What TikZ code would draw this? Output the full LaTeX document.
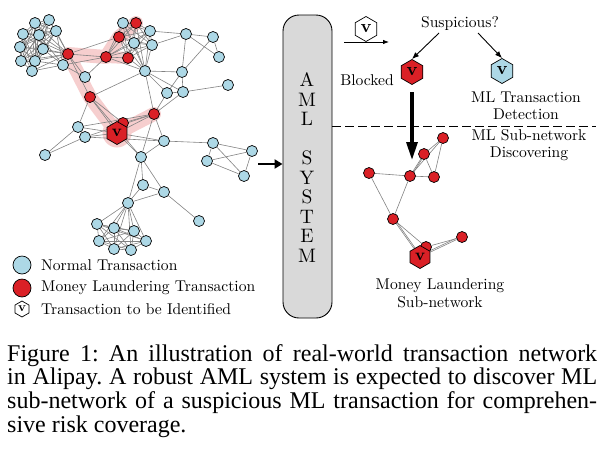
\documentclass[tikz,border=0pt]{standalone}
\usepackage{fontspec}
\newfontfamily\capfont{Liberation Serif}
\usetikzlibrary{shapes.geometric,arrows.meta}
\definecolor{nblue}{RGB}{173,216,230}
\definecolor{mlred}{RGB}{218,32,38}
\definecolor{hlpink}{RGB}{246,206,206}
\definecolor{edgegray}{RGB}{130,130,130}
\definecolor{boxgray}{RGB}{217,217,217}
\newcommand{\sz}[2]{\scalebox{#1}{\fontsize{10}{12}\selectfont #2}}
\newcommand{\twol}[3]{\scalebox{#1}{\fontsize{10}{11.2}\selectfont\begin{tabular}{@{}c@{}}#2\\#3\end{tabular}}}
\pgfdeclarelayer{hl}
\pgfdeclarelayer{edges}
\pgfsetlayers{hl,edges,main}
\begin{document}
\begin{tikzpicture}[x=1pt,y=-1pt,
  nn/.style={circle,draw=black,line width=0.7pt,fill=nblue,minimum size=11pt,inner sep=0pt},
  ml/.style={nn,fill=mlred},
  hexv/.style={regular polygon,regular polygon sides=6,shape border rotate=30,draw=black,line width=0.7pt,minimum size=#1,inner sep=0pt},
  edge/.style={draw=edgegray,line width=0.6pt},
  lbl/.style={inner sep=0pt},
  capline/.style={anchor=base west,inner sep=0pt,font=\capfont\fontsize{24}{24}\selectfont\frenchspacing}
]
\useasboundingbox (0,0) rectangle (601,453);

% ---------- big network nodes ----------
\node[nn] (A1) at (35,23) {};
\node[nn] (A2) at (49,20) {};
\node[nn] (A3) at (23,34) {};
\node[nn] (A4) at (39,35) {};
\node[nn] (A5) at (56,31) {};
\node[nn] (A6) at (20,47) {};
\node[nn] (A7) at (43,49) {};
\node[nn] (A8) at (21,61) {};
\node[nn] (A9) at (35,61) {};
\node[nn] (A10) at (32,71) {};
\node[nn] (A11) at (63,65) {};
\node[ml] (R1) at (68,54) {};
\node[nn] (N1) at (85,77) {};
\node[nn] (B1) at (123,23) {};
\node[ml] (B2) at (136,23) {};
\node[ml] (B3) at (119,37) {};
\node[nn] (B4) at (150,31) {};
\node[nn] (B5) at (134,43) {};
\node[nn] (B6) at (152,45) {};
\node[ml] (B7) at (106,57) {};
\node[ml] (B8) at (128,58) {};
\node[nn] (C1) at (145,71) {};
\node[nn] (D1) at (186,34) {};
\node[nn] (D2) at (213,37) {};
\node[nn] (D3) at (219,57) {};
\node[nn] (D4) at (182,72) {};
\node[nn] (D5) at (167,93) {};
\node[nn] (D6) at (183,92) {};
\node[nn] (D7) at (228,85) {};
\node[ml] (R3) at (90,97) {};
\node[ml] (R4) at (154,114) {};
\node[ml] (R5) at (123,123) {};
\node[hexv=23pt,fill=mlred] (HV) at (117,133) {\sz{1.65}{\bfseries v}};
\node[nn] (E1) at (78,127) {};
\node[nn] (E2) at (85,137) {};
\node[nn] (E3) at (45,155) {};
\node[nn] (F1) at (164,141) {};
\node[nn] (F2) at (141,157) {};
\node[nn] (G1) at (213,143) {};
\node[nn] (G2) at (252,151) {};
\node[nn] (G3) at (207,161) {};
\node[nn] (G4) at (244,176) {};
\node[nn] (H1) at (143,185) {};
\node[nn] (H2) at (164,192) {};
\node[nn] (H3) at (128,203) {};
\node[nn] (H4) at (199,221) {};
\node[nn] (K1) at (97,224) {};
\node[nn] (K2) at (114,228) {};
\node[nn] (K3) at (134,231) {};
\node[nn] (K4) at (99,241) {};
\node[nn] (K5) at (146,241) {};
\node[nn] (K6) at (114,249) {};
\node[nn] (K7) at (131,250) {};

% ---------- highlight ----------
\begin{pgfonlayer}{hl}
\draw[hlpink,line width=14pt,line join=round,line cap=round]
  (B2.center) -- (B3.center) -- (B7.center) -- (R1.center) -- (R3.center) -- (HV.center) -- (R4.center);
\draw[hlpink,line width=12pt,line cap=round] (B7.center) -- (B8.center);
\fill[hlpink] (HV.center) circle (14.5pt);
\end{pgfonlayer}

% ---------- edges ----------
\begin{pgfonlayer}{edges}
\foreach \i in {1,...,10}{
  \foreach \j in {1,...,10}{
    \ifnum\i<\j \draw[edge] (A\i) -- (A\j); \fi
  }
  \draw[edge] (A\i) -- (R1);
}
\foreach \i in {4,5,7,9,10} \draw[edge] (A\i) -- (A11);
\foreach \i in {1,...,8}{
  \foreach \j in {1,...,8}{
    \ifnum\i<\j \draw[edge] (B\i) -- (B\j); \fi
  }
  \draw[edge] (B\i) -- (C1);
}
\foreach \i in {1,...,7}{
  \foreach \j in {1,...,7}{
    \ifnum\i<\j \draw[edge] (K\i) -- (K\j); \fi
  }
  \draw[edge] (K\i) -- (H3);
}
\foreach \u/\v in {R1/A11,R1/B7,R1/N1,R1/R3,A11/N1,A11/B7,B7/N1,B3/R1,
  C1/D4,C1/D5,C1/D6,C1/R4,C1/R3,B4/D1,B6/D1,D1/D2,D2/D3,D1/D3,D1/D4,D4/D2,
  D4/D5,D4/D6,D6/D7,D5/R4,D6/R4,D5/D6,
  R4/HV,R4/R5,R4/F1,R4/F2,R4/E1,R4/E2,
  HV/R3,HV/E1,HV/E2,HV/F1,HV/F2,HV/R5,R3/E1,R3/R5,R3/F2,
  E1/E2,E1/E3,E2/E3,E2/F1,
  F1/G1,F1/F2,F2/H1,F2/H2,F2/H3,H1/H2,H1/H3,H2/H3,H2/H4,
  G1/G2,G1/G3,G2/G3,G3/G4,G2/G4,G1/G4}
  \draw[edge] (\u) -- (\v);
\end{pgfonlayer}

% ---------- AML system ----------
\coordinate (netout) at (258,164);
\node[draw=black,fill=boxgray,line width=0.9pt,rounded corners=16pt,minimum width=49pt,minimum height=303pt,inner sep=0pt] (aml) at (307.5,166.5) {};
\draw[line width=2.8pt,-{Triangle[length=8pt,width=9pt]}] (netout) -- (aml.west |- netout);

\foreach \t/\y [count=\k] in {A/80,M/99.5,L/119,S/158,Y/177.5,S/197,T/216.5,E/236,M/255.5}
  \node[inner sep=0pt] (aml\k) at (307,\y) {\sz{1.95}{\t}};

% ---------- right side ----------
\node[hexv=25pt,fill=white] (vin) at (366,29) {\sz{1.8}{\bfseries v}};
\coordinate (inA) at (344,42);
\coordinate (inB) at (389,42);
\draw[line width=0.8pt,-{Latex[length=6pt,width=4.5pt]}] (inA) -- (inB);

\node[lbl] (susp) at (460,24) {\sz{1.56}{Suspicious?}};
\node[hexv=25pt,fill=mlred] (vred) at (412,72) {\sz{1.8}{\bfseries v}};
\node[hexv=25pt,fill=nblue] (vblue) at (502,71) {\sz{1.8}{\bfseries v}};
\coordinate (sA) at (439,33);
\coordinate (sB) at (478,33);
\draw[line width=0.9pt,-{Latex[length=7pt,width=5.5pt]}] (sA) -- (vred.north);
\draw[line width=0.9pt,-{Latex[length=7pt,width=5.5pt]}] (sB) -- (vblue.north);
\node[lbl] (blocked) at (367,80) {\sz{1.56}{Blocked}};
\node[lbl] (mltd) at (526,107.5) {\twol{1.56}{ML Transaction}{Detection}};

\coordinate (dashL) at (332,126);
\coordinate (dashR) at (596,126);
\draw[line width=0.9pt,dash pattern=on 9pt off 4pt] (dashL) -- (dashR);
\node[lbl] (mlsd) at (529,145.5) {\twol{1.56}{ML Sub-network}{Discovering}};

\coordinate (dnA) at (412,92);
\coordinate (dnB) at (412,160);
\draw[line width=3.2pt,-{Triangle[length=18pt,width=11pt]}] (dnA) -- (dnB);

% sub-network
\node[ml] (S1) at (443,138) {};
\node[ml] (S2) at (424,154) {};
\node[ml] (S3) at (369,173) {};
\node[ml] (S4) at (410,176) {};
\node[ml] (S5) at (434,177) {};
\node[ml] (S6) at (393,219) {};
\node[ml] (S7) at (462,237) {};
\node[ml] (S8) at (426,247) {};
\node[hexv=23pt,fill=mlred] (SV) at (420,257) {\sz{1.65}{\bfseries v}};
\begin{pgfonlayer}{edges}
\foreach \u/\v in {S1/S2,S1/S4,S2/S4,S1/S5,S2/S5,S4/S5,S3/S4,S3/S6,S4/S6,S6/S8,S6/SV,S8/S7,SV/S7}
  \draw[edge] (\u) -- (\v);
\draw[edge] ([xshift=1.2pt]S2.center) -- ([xshift=1.2pt]S4.center);
\draw[edge] ([xshift=1.5pt]S6.center) -- ([xshift=1.5pt]SV.center);
\draw[edge] ([yshift=1.5pt]SV.center) -- ([yshift=1.5pt]S7.center);
\end{pgfonlayer}
\node[lbl] (mlsub) at (440,295) {\twol{1.56}{Money Laundering}{Sub-network}};

% ---------- legend ----------
\node[nn,minimum size=18pt] (legN) at (22,265) {};
\node[ml,minimum size=18pt] (legM) at (22,288) {};
\node[hexv=16pt,fill=white] (legV) at (22,309) {\sz{1.3}{\bfseries v}};
\node[lbl,anchor=west] (legNt) at (41,265) {\sz{1.56}{Normal Transaction}};
\node[lbl,anchor=west] (legMt) at (41,288) {\sz{1.56}{Money Laundering Transaction}};
\node[lbl,anchor=west] (legVt) at (41,309) {\sz{1.56}{Transaction to be Identified}};

% ---------- caption ----------
\node[capline] (cap1) at (7,361) {\makebox[590pt][s]{Figure 1: An illustration of real-world transaction network}};
\node[capline] (cap2) at (7,384.7) {\makebox[590pt][s]{in Alipay. A robust AML system is expected to discover ML}};
\node[capline] (cap3) at (7,408.4) {\makebox[590pt][s]{sub-network of a suspicious ML transaction for comprehen-}};
\node[capline] (cap4) at (7,432) {sive risk coverage.};
\end{tikzpicture}
\end{document}
